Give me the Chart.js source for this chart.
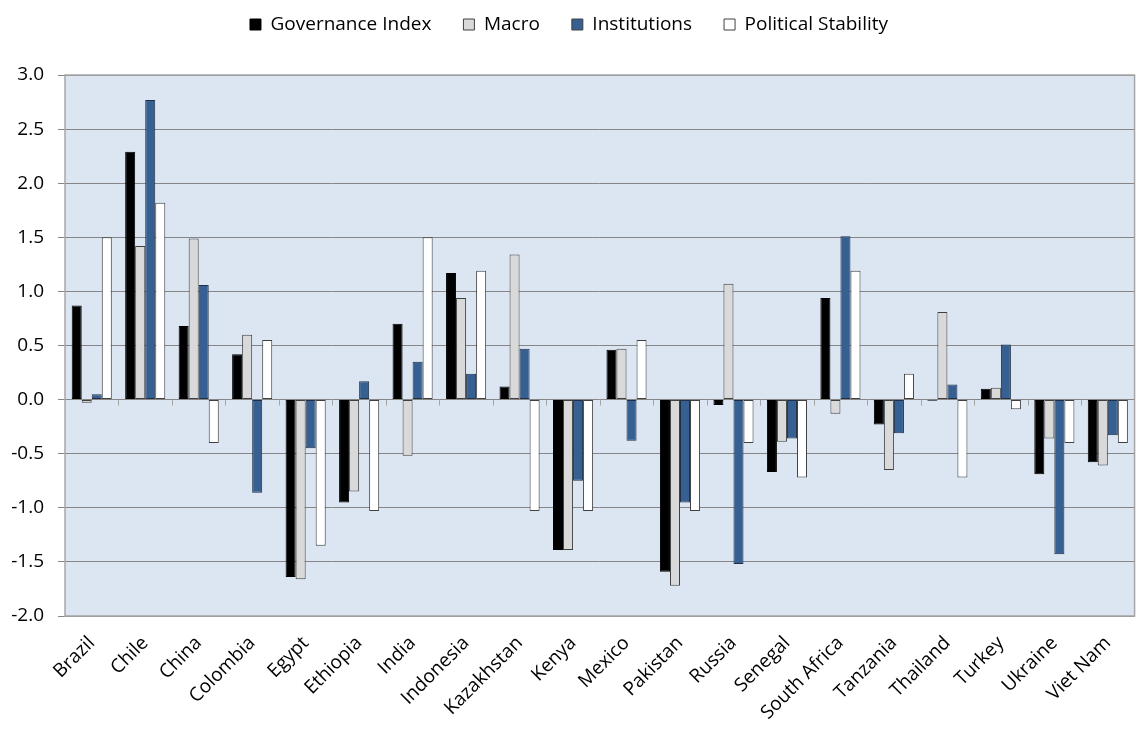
<!DOCTYPE html>
<html lang="en">
<head>
  <meta charset="UTF-8">
  <title>Governance Index by Country</title>
  <script src="https://cdn.jsdelivr.net/npm/chart.js"></script>
  <style>
    body { margin: 0; background: #fff; }
  </style>
</head>
<body>
  <canvas id="chart" width="1140" height="729"></canvas>

  <script>
    // Countries
    const countries = ["Brazil", "Chile", "China", "Colombia", "Egypt", "Ethiopia", "India",
      "Indonesia", "Kazakhstan", "Kenya", "Mexico", "Pakistan", "Russia", "Senegal",
      "South Africa", "Tanzania", "Thailand", "Turkey", "Ukraine", "Viet Nam"];

    // Series values
    const governance = [0.87, 2.29, 0.68, 0.42, -1.64, -0.95, 0.70, 1.17, 0.12, -1.39,
      0.46, -1.59, -0.05, -0.67, 0.94, -0.23, -0.01, 0.10, -0.69, -0.58];
    const macro = [-0.03, 1.42, 1.49, 0.60, -1.66, -0.85, -0.52, 0.94, 1.34, -1.39,
      0.47, -1.72, 1.07, -0.39, -0.13, -0.65, 0.81, 0.11, -0.36, -0.61];
    const institutions = [0.05, 2.77, 1.06, -0.86, -0.45, 0.17, 0.35, 0.24, 0.47, -0.75,
      -0.38, -0.95, -1.52, -0.36, 1.51, -0.31, 0.14, 0.51, -1.43, -0.33];
    const politicalStability = [1.50, 1.82, -0.40, 0.55, -1.35, -1.03, 1.50, 1.19, -1.03, -1.03,
      0.55, -1.03, -0.40, -0.72, 1.19, 0.24, -0.72, -0.09, -0.40, -0.40];

    // Y axis ticks
    const yMin = -2.0, yMax = 3.0, yStep = 0.5;

    const fontFamily = "'Open Sans', Lato, sans-serif";

    // background of the plot area + frame + small ticks on the zero line
    const plotArea = {
      id: 'plotArea',
      afterInit(chart) {
        // give the legend some extra room underneath
        const legend = chart.legend;
        if (legend) {
          const fit = legend.fit;
          legend.fit = function () {
            fit.call(this);
            this.height += 31;
          };
        }
      },
      beforeDraw(chart) {
        const { ctx, chartArea: a } = chart;
        ctx.save();
        ctx.fillStyle = '#DCE6F2';
        ctx.fillRect(a.left, a.top, a.right - a.left, a.bottom - a.top);
        ctx.restore();
      },
      afterDatasetsDraw(chart) {
        const { ctx, chartArea: a, scales } = chart;
        const y0 = scales.y.getPixelForValue(0);
        const n = countries.length;
        const w = (a.right - a.left) / n;
        ctx.save();
        ctx.strokeStyle = '#A6A6A6';
        ctx.lineWidth = 1;
        ctx.beginPath();
        for (let i = 1; i < n; i++) {
          const x = Math.round(a.left + i * w) + 0.5;
          ctx.moveTo(x, y0);
          ctx.lineTo(x, y0 + 6);
        }
        ctx.stroke();
        ctx.lineWidth = 1.5;
        ctx.strokeRect(a.left, a.top, a.right - a.left, a.bottom - a.top);
        ctx.restore();
      }
    };

    const config = {
      type: 'bar',
      data: {
        labels: countries,
        datasets: [
          { label: 'Governance Index', data: governance, backgroundColor: '#000000', borderColor: '#000000' },
          { label: 'Macro', data: macro, backgroundColor: '#D9D9D9', borderColor: '#404040' },
          { label: 'Institutions', data: institutions, backgroundColor: '#366092', borderColor: '#1F2F45' },
          { label: 'Political Stability', data: politicalStability, backgroundColor: '#FFFFFF', borderColor: '#404040' }
        ].map(d => Object.assign(d, { borderWidth: 1, borderSkipped: false, categoryPercentage: 0.75, barPercentage: 1.0 }))
      },
      options: {
        responsive: false,
        animation: false,
        layout: { padding: { top: -17, right: 2, left: 0, bottom: 0 } },
        plugins: {
          legend: {
            position: 'top',
            labels: {
              color: '#000',
              font: { family: fontFamily, size: 19 },
              boxWidth: 11,
              boxHeight: 11,
              padding: 32,
              generateLabels(chart) {
                return chart.data.datasets.map((d, i) => ({
                  text: d.label,
                  fillStyle: d.backgroundColor,
                  strokeStyle: i === 0 ? '#000' : '#404040',
                  lineWidth: 1,
                  datasetIndex: i,
                  hidden: false,
                  fontColor: '#000'
                }));
              }
            }
          },
          tooltip: { enabled: false }
        },
        scales: {
          x: {
            grid: { display: false, drawTicks: false },
            border: { display: false },
            ticks: {
              color: '#000',
              font: { family: fontFamily, size: 19 },
              maxRotation: 45,
              minRotation: 45,
              autoSkip: false,
              padding: 16
            },
            afterFit(scale) { scale.height = 113; }
          },
          y: {
            min: yMin,
            max: yMax,
            grid: { color: '#868686', lineWidth: 1, tickLength: 7, tickColor: '#868686' },
            border: { display: false },
            ticks: {
              stepSize: yStep,
              color: '#000',
              font: { family: fontFamily, size: 19 },
              padding: 14,
              callback: v => Number(v).toFixed(1)
            },
            afterFit(scale) { scale.width = 65; }
          }
        }
      },
      plugins: [plotArea]
    };

    const ctx = document.getElementById('chart').getContext('2d');
    new Chart(ctx, config);
  </script>
</body>
</html>
